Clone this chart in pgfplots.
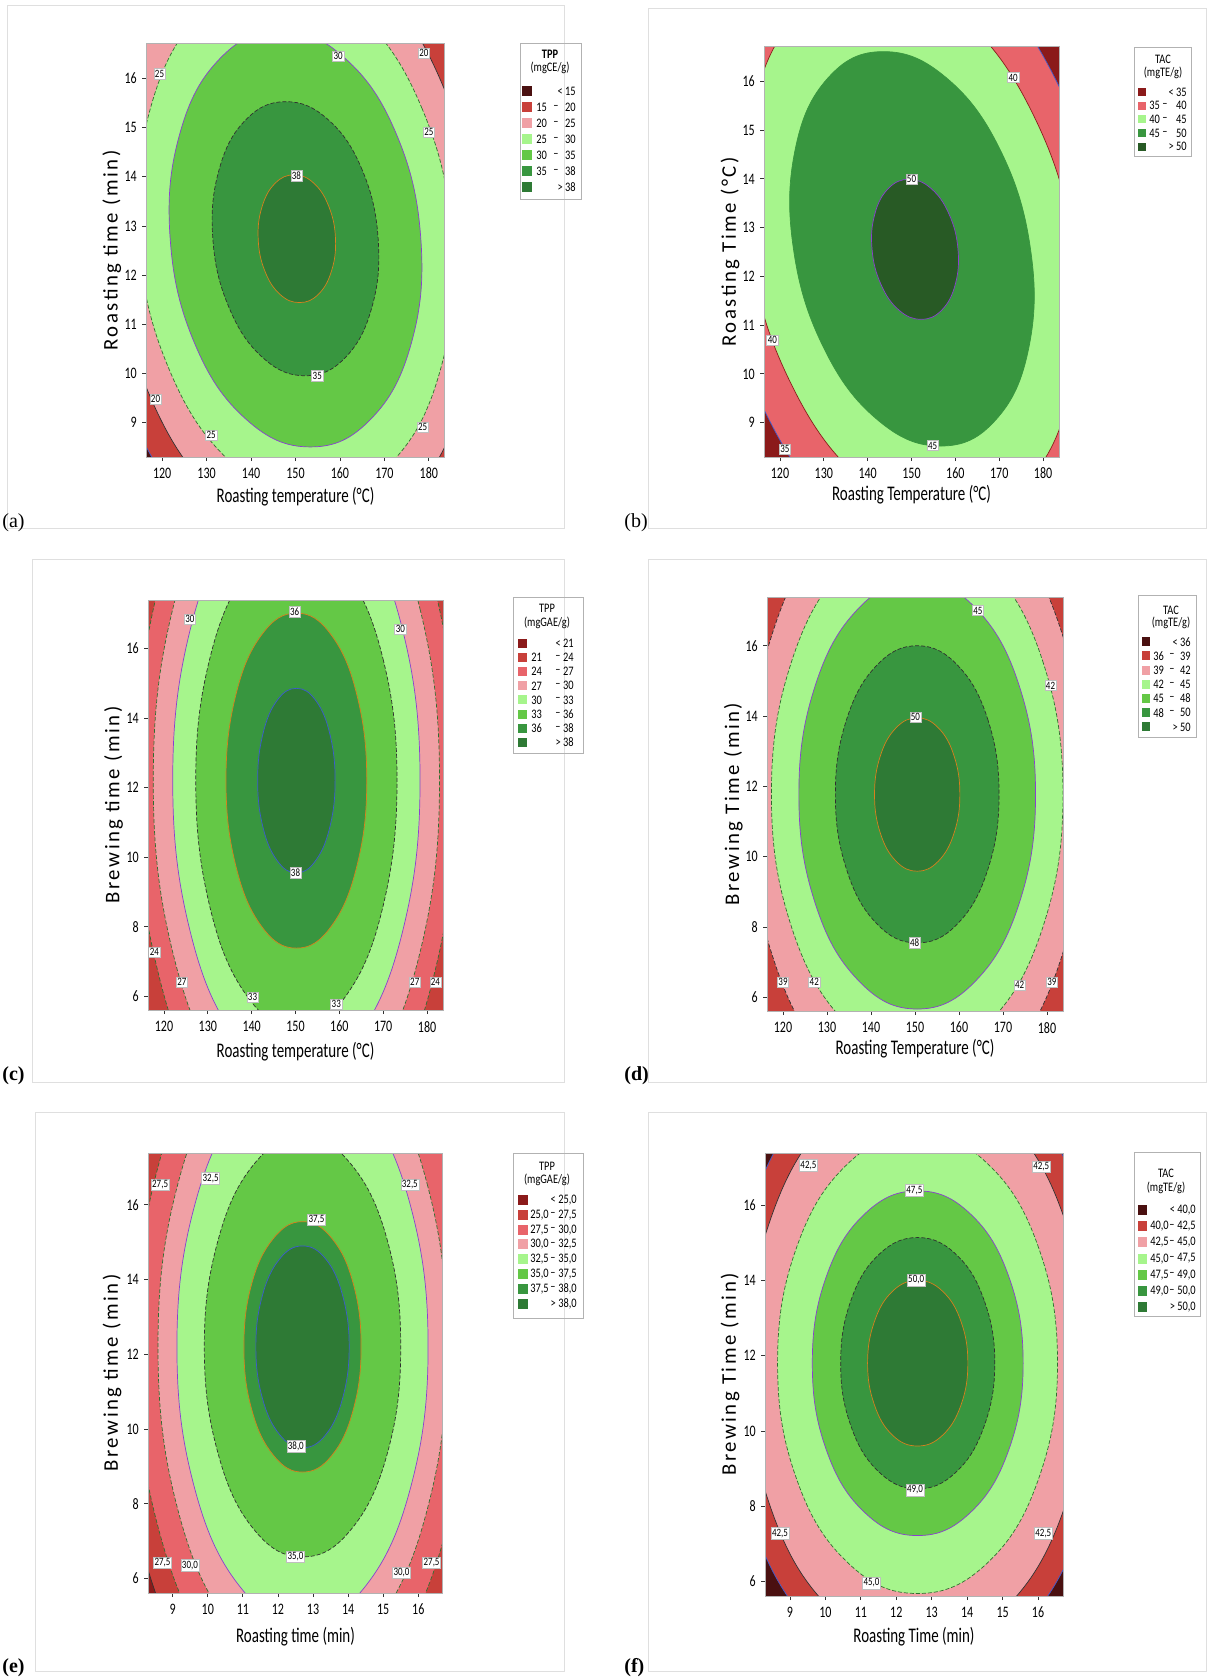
\documentclass[border=0pt]{standalone}
\usepackage{fontspec}
\setmainfont{Carlito}
\newfontfamily\serifp{Liberation Serif}
\usepackage{pgfplots}
\pgfplotsset{compat=1.18}

\definecolor{cDk}{HTML}{4A1010}
\definecolor{cBr}{HTML}{8B1A1A}
\definecolor{cRd}{HTML}{C8403A}
\definecolor{cSa}{HTML}{E8646A}
\definecolor{cPk}{HTML}{F0A0A5}
\definecolor{cLg}{HTML}{A6F58C}
\definecolor{cMg}{HTML}{64C846}
\definecolor{cGr}{HTML}{38963F}
\definecolor{cDg}{HTML}{2E7A35}
\definecolor{cXd}{HTML}{285A25}
\definecolor{lP}{HTML}{8A3FD0}
\definecolor{lO}{HTML}{D7801E}
\definecolor{lB}{HTML}{3D5BD0}
\definecolor{lD}{HTML}{303030}
\definecolor{lG}{HTML}{2F6F2F}

\pgfplotsset{
 cont/.style={scale only axis, anchor=south west, axis on top, enlargelimits=false,
  tick align=outside, major tick length=2pt, tick pos=left,
  axis line style={draw=gray!60, line width=0.5pt},
  tick style={draw=black!80, line width=0.4pt},
  /pgf/number format/assume math mode=true,
  ticklabel style={font=\fontsize{8}{9}\selectfont, xscale=0.75},
  xlabel style={font=\fontsize{10.4}{12}\selectfont, xscale=0.72, anchor=center},
  ylabel style={font=\fontsize{10.4}{12}\selectfont\addfontfeature{LetterSpace=12}, anchor=center},
 },
 ell/.style={smooth cycle, tension=0.7, line width=0.35pt},
 dsh/.style={dash pattern=on 2pt off 1pt},
}
\tikzset{
 cl/.style={fill=white, draw=gray!50, line width=0.2pt, inner sep=0.7pt, font=\fontsize{5.6}{6}\selectfont, xscale=0.8},
 lt/.style={font=\fontsize{6.5}{7}\selectfont, inner sep=0pt, xscale=0.8},
}

\def\Lsa{522}\def\Lsb{532}\def\Lh{5}\def\Lxl{536}\def\Lxd{556}\def\Lxr{576}
\newcommand{\lr}[5]{%
 \fill[#2] (\Lsa,#1-\Lh) rectangle (\Lsb,#1+\Lh);
 \node[lt,anchor=west] at (\Lxl,#1) {#3};
 \node[lt,anchor=center] at (\Lxd,#1) {#4};
 \node[lt,anchor=east] at (\Lxr,#1) {#5};
}

\begin{document}
\begin{tikzpicture}
\begin{scope}[x=0.5pt,y=-0.5pt]
\path[use as bounding box] (0,0) rectangle (1207,1680);
\draw[gray!25, line width=0.5pt] (7.5,5.4) rectangle (564,528);
\draw[gray!25, line width=0.5pt] (648,8.6) rectangle (1206,528);
\draw[gray!25, line width=0.5pt] (32,559) rectangle (564,1082);
\draw[gray!25, line width=0.5pt] (648,559) rectangle (1206,1082);
\draw[gray!25, line width=0.5pt] (35,1112) rectangle (564,1671);
\draw[gray!25, line width=0.5pt] (648,1112) rectangle (1206,1671);
\node[anchor=base west, inner sep=0pt, font=\serifp\fontsize{10}{12}\selectfont] at (2,527) {(a)};
\node[anchor=base west, inner sep=0pt, font=\serifp\fontsize{10}{12}\selectfont] at (624,527) {(b)};
\node[anchor=base west, inner sep=0pt, font=\serifp\bfseries\fontsize{10}{12}\selectfont] at (2,1080) {(c)};
\node[anchor=base west, inner sep=0pt, font=\serifp\bfseries\fontsize{10}{12}\selectfont] at (624,1080) {(d)};
\node[anchor=base west, inner sep=0pt, font=\serifp\bfseries\fontsize{10}{12}\selectfont] at (2,1672) {(e)};
\node[anchor=base west, inner sep=0pt, font=\serifp\bfseries\fontsize{10}{12}\selectfont] at (624,1672) {(f)};

% legend (a)
\draw[gray!60, line width=0.4pt] (520,43) rectangle (581,199);
\node[lt] at (550,54) {\bfseries TPP};
\node[lt] at (550,68) {(mgCE/g)};
\lr{91}{cDk}{}{}{< 15}
\lr{107}{cRd}{15}{–}{20}
\lr{123}{cPk}{20}{–}{25}
\lr{139}{cLg}{25}{–}{30}
\lr{155}{cMg}{30}{–}{35}
\lr{171}{cGr}{35}{–}{38}
\lr{187}{cDg}{}{}{> 38}

% legend (b)
\def\Lsa{1138}\def\Lsb{1146}\def\Lh{4}\def\Lxl{1149}\def\Lxd{1165}\def\Lxr{1187}
\draw[gray!60, line width=0.4pt] (1134,47) rectangle (1191,156);
\node[lt] at (1163,59) {TAC};
\node[lt] at (1163,73) {(mgTE/g)};
\lr{92}{cBr}{}{}{< 35}
\lr{105.7}{cSa}{35}{–}{40}
\lr{119.4}{cLg}{40}{–}{45}
\lr{133.1}{cGr}{45}{–}{50}
\lr{146.8}{cXd}{}{}{> 50}

% legend (c)
\def\Lsa{518}\def\Lsb{527}\def\Lh{4.5}\def\Lxl{531}\def\Lxd{558}\def\Lxr{574}
\draw[gray!60, line width=0.4pt] (513,597) rectangle (583,753);
\node[lt] at (547,608) {TPP};
\node[lt] at (547,623) {(mgGAE/g)};
\lr{643.5}{cBr}{}{}{< 21}
\lr{657.6}{cRd}{21}{–}{24}
\lr{671.7}{cSa}{24}{–}{27}
\lr{685.8}{cPk}{27}{–}{30}
\lr{699.9}{cLg}{30}{–}{33}
\lr{714}{cMg}{33}{–}{36}
\lr{728.1}{cGr}{36}{–}{38}
\lr{742.2}{cDg}{}{}{> 38}

% legend (d)
\def\Lsa{1142}\def\Lsb{1150}\def\Lh{4.5}\def\Lxl{1153}\def\Lxd{1172}\def\Lxr{1191}
\draw[gray!60, line width=0.4pt] (1138,595) rectangle (1196,737);
\node[lt] at (1171,610) {TAC};
\node[lt] at (1171,623) {(mgTE/g)};
\lr{641.7}{cDk}{}{}{< 36}
\lr{655.9}{cRd}{36}{–}{39}
\lr{670.1}{cPk}{39}{–}{42}
\lr{684.3}{cLg}{42}{–}{45}
\lr{698.5}{cMg}{45}{–}{48}
\lr{712.7}{cGr}{48}{–}{50}
\lr{726.9}{cDg}{}{}{> 50}

% legend (e)
\def\Lsa{518}\def\Lsb{528}\def\Lh{5}\def\Lxl{530}\def\Lxd{553}\def\Lxr{577}
\draw[gray!60, line width=0.4pt] (513,1153) rectangle (583,1318);
\node[lt] at (547,1166) {TPP};
\node[lt] at (547,1180) {(mgGAE/g)};
\lr{1200}{cBr}{}{}{< 25,0}
\lr{1214.8}{cRd}{25,0}{–}{27,5}
\lr{1229.6}{cSa}{27,5}{–}{30,0}
\lr{1244.4}{cPk}{30,0}{–}{32,5}
\lr{1259.2}{cLg}{32,5}{–}{35,0}
\lr{1274}{cMg}{35,0}{–}{37,5}
\lr{1288.8}{cGr}{37,5}{–}{38,0}
\lr{1303.6}{cDg}{}{}{> 38,0}

% legend (f)
\def\Lsa{1138}\def\Lsb{1147}\def\Lh{5}\def\Lxl{1150}\def\Lxd{1172}\def\Lxr{1196}
\draw[gray!60, line width=0.4pt] (1134,1152) rectangle (1200,1316);
\node[lt] at (1166,1173) {TAC};
\node[lt] at (1166,1188) {(mgTE/g)};
\lr{1210}{cDk}{}{}{< 40,0}
\lr{1226.2}{cRd}{40,0}{–}{42,5}
\lr{1242.4}{cPk}{42,5}{–}{45,0}
\lr{1258.6}{cLg}{45,0}{–}{47,5}
\lr{1274.8}{cMg}{47,5}{–}{49,0}
\lr{1291}{cGr}{49,0}{–}{50,0}
\lr{1307.2}{cDg}{}{}{> 50,0}
\end{scope}

% ---------------- (a)
\begin{axis}[cont, at={(73pt,-228.5pt)}, width=149.5pt, height=206.5pt,
 xmin=116.36, xmax=183.64, ymin=8.295, ymax=16.705,
 xtick={120,130,...,180}, ytick={9,...,16},
 axis background/.style={fill=cDk},
 xlabel={Roasting temperature (°C)}, ylabel={Roasting time (min)},
 xlabel style={at={(axis description cs:0.5,-0.097)}},
 ylabel style={at={(axis description cs:-0.114,0.5)}}]
\addplot[ell, fill=cRd, draw=lB] coordinates {(196.4,12.74) (187.44,16.22) (168.45,18.77) (144.51,19.70) (122.05,18.77) (107.08,16.22) (103.6,12.74) (112.57,9.26) (131.55,6.71) (155.49,5.78) (177.95,6.71) (192.93,9.26)};
\addplot[ell, fill=cPk, draw=lD] coordinates {(191.2,12.74) (183.24,15.84) (166.37,18.10) (145.12,18.93) (125.17,18.10) (111.88,15.84) (108.8,12.74) (116.76,9.64) (133.63,7.38) (154.88,6.55) (174.83,7.38) (188.12,9.64)};
\addplot[ell, fill=cLg, draw=lG, dsh] coordinates {(185.3,12.74) (178.48,15.39) (164.03,17.33) (145.82,18.04) (128.73,17.33) (117.34,15.39) (114.7,12.74) (121.52,10.09) (135.97,8.15) (154.18,7.44) (171.27,8.15) (182.66,10.09)};
\addplot[ell, fill=cMg, draw=lP] coordinates {(178.2,12.74) (172.75,14.86) (161.21,16.41) (146.66,16.98) (133.01,16.41) (123.91,14.86) (121.8,12.74) (127.25,10.62) (138.79,9.07) (153.34,8.50) (166.99,9.07) (176.09,10.62)};
\addplot[ell, fill=cGr, draw=lD, dsh] coordinates {(168.6,12.74) (165.01,14.14) (157.40,15.16) (147.80,15.53) (138.80,15.16) (132.79,14.14) (131.40,12.74) (134.99,11.35) (142.61,10.32) (152.20,9.95) (161.21,10.32) (167.21,11.35)};
\addplot[ell, fill=cDg, draw=lO] coordinates {(159.0,12.74) (157.53,13.39) (154.13,13.87) (149.7,14.04) (145.43,13.87) (142.47,13.39) (141.6,12.74) (143.07,12.09) (146.47,11.61) (150.9,11.44) (155.17,11.61) (158.13,12.09)};
\node[cl] at (159.6,16.46) {30};
\node[cl] at (178.9,16.52) {20};
\node[cl] at (119.4,16.1) {25};
\node[cl] at (180,14.91) {25};
\node[cl] at (150.2,14.02) {38};
\node[cl] at (154.9,9.95) {35};
\node[cl] at (118.5,9.47) {20};
\node[cl] at (131,8.74) {25};
\node[cl] at (178.6,8.9) {25};
\end{axis}

% ---------------- (b)
\begin{axis}[cont, at={(382pt,-228.5pt)}, width=147.5pt, height=205pt,
 xmin=116.36, xmax=183.64, ymin=8.295, ymax=16.705,
 xtick={120,130,...,180}, ytick={9,...,16},
 axis background/.style={fill=cBr},
 xlabel={Roasting Temperature (°C)}, ylabel={Roasting Time (°C)},
 xlabel style={at={(axis description cs:0.5,-0.093)}},
 ylabel style={at={(axis description cs:-0.115,0.5)}}]
\addplot[ell, fill=cSa, draw=lB] coordinates {(194.92,12.565) (183.52,15.92) (163.18,18.37) (139.32,19.27) (118.36,18.37) (105.9,15.92) (105.28,12.565) (116.68,9.21) (137.03,6.76) (160.88,5.86) (181.85,6.76) (194.3,9.21)};
\addplot[ell, fill=cLg, draw=cBr] coordinates {(187.1,12.565) (177.69,15.33) (160.89,17.36) (141.2,18.10) (123.89,17.36) (113.61,15.33) (113.1,12.565) (122.51,9.80) (139.31,7.77) (159.0,7.03) (176.31,7.77) (186.59,9.80)};
\addplot[ell, fill=cGr, draw=cGr] coordinates {(177.13,12.565) (170.26,14.59) (157.99,16.07) (143.6,16.61) (130.95,16.07) (123.44,14.59) (123.07,12.565) (129.94,10.54) (142.21,9.06) (156.6,8.52) (169.25,9.06) (176.76,10.54)};
\addplot[ell, fill=cXd, draw=lP] coordinates {(160.6,12.555) (158.59,13.27) (154.49,13.80) (149.4,13.99) (144.69,13.80) (141.61,13.27) (141.0,12.555) (143.01,11.84) (147.11,11.31) (152.2,11.12) (156.91,11.31) (159.99,11.84)};
\node[cl] at (173.2,16.08) {40};
\node[cl] at (150,13.99) {50};
\node[cl] at (118.25,10.69) {40};
\node[cl] at (154.8,8.53) {45};
\node[cl] at (121.1,8.46) {35};
\end{axis}

% ---------------- (c)
\begin{axis}[cont, at={(74pt,-505pt)}, width=147.5pt, height=205pt,
 xmin=116.36, xmax=183.64, ymin=5.613, ymax=17.387,
 xtick={120,130,...,180}, ytick={6,8,...,16},
 axis background/.style={fill=cRd},
 xlabel={Roasting temperature (°C)}, ylabel={Brewing time (min)},
 xlabel style={at={(axis description cs:0.5,-0.1015)}},
 ylabel style={at={(axis description cs:-0.117,0.5)}}]
\addplot[ell, fill=cSa, draw=lG, dsh] coordinates {(186.7,12.2) (181.81,17.68) (168.45,21.68) (150.2,23.15) (131.95,21.68) (118.59,17.68) (113.7,12.2) (118.59,6.73) (131.95,2.72) (150.2,1.25) (168.45,2.72) (181.81,6.73)};
\addplot[ell, fill=cPk, draw=lG, dsh] coordinates {(182.84,12.2) (178.47,17.09) (166.52,20.67) (150.2,21.98) (133.88,20.67) (121.93,17.09) (117.56,12.2) (121.93,7.31) (133.88,3.73) (150.2,2.42) (166.52,3.73) (178.47,7.31)};
\addplot[ell, fill=cLg, draw=lP] coordinates {(178.4,12.2) (174.62,16.43) (164.3,19.53) (150.2,20.66) (136.1,19.53) (125.78,16.43) (122.0,12.2) (125.78,7.97) (136.1,4.87) (150.2,3.74) (164.3,4.87) (174.62,7.97)};
\addplot[ell, fill=cMg, draw=lD, dsh] coordinates {(173.15,12.2) (170.07,15.64) (161.68,18.16) (150.2,19.08) (138.73,18.16) (130.33,15.64) (127.25,12.2) (130.33,8.65) (138.73,6.05) (150.2,5.10) (161.68,6.05) (170.07,8.65)};
\addplot[ell, fill=cGr, draw=lO] coordinates {(166.25,12.2) (164.1,14.61) (158.23,16.37) (150.2,17.01) (142.18,16.37) (136.3,14.61) (134.15,12.2) (136.3,9.80) (142.18,8.03) (150.2,7.39) (158.23,8.03) (164.1,9.80)};
\addplot[ell, fill=cDg, draw=lB] coordinates {(159.03,12.2) (157.85,13.53) (154.62,14.50) (150.2,14.85) (145.79,14.50) (142.55,13.53) (141.37,12.2) (142.55,10.88) (145.79,9.91) (150.2,9.55) (154.62,9.91) (157.85,10.88)};
\node[cl] at (149.8,17.05) {36};
\node[cl] at (125.9,16.84) {30};
\node[cl] at (173.9,16.55) {30};
\node[cl] at (150,9.55) {38};
\node[cl] at (117.8,7.27) {24};
\node[cl] at (124.1,6.42) {27};
\node[cl] at (140.2,5.99) {33};
\node[cl] at (159.3,5.78) {33};
\node[cl] at (177.2,6.42) {27};
\node[cl] at (181.9,6.42) {24};
\end{axis}

% ---------------- (d)
\begin{axis}[cont, at={(383.5pt,-505.5pt)}, width=148pt, height=207pt,
 xmin=116.36, xmax=183.64, ymin=5.613, ymax=17.387,
 xtick={120,130,...,180}, ytick={6,8,...,16},
 axis background/.style={fill=cRd},
 xlabel={Roasting Temperature (°C)}, ylabel={Brewing Time (min)},
 xlabel style={at={(axis description cs:0.5,-0.09)}},
 ylabel style={at={(axis description cs:-0.114,0.5)}}]
\addplot[ell, fill=cPk, draw=lD, dsh] coordinates {(188.9,11.77) (183.75,16.22) (169.7,19.48) (150.5,20.67) (131.3,19.48) (117.25,16.22) (112.1,11.77) (117.25,7.32) (131.3,4.06) (150.5,2.87) (169.7,4.06) (183.75,7.32)};
\addplot[ell, fill=cLg, draw=lG, dsh] coordinates {(183.63,11.77) (179.19,15.5) (167.07,18.22) (150.5,19.22) (133.94,18.22) (121.81,15.5) (117.37,11.77) (121.81,8.05) (133.94,5.32) (150.5,4.32) (167.07,5.32) (179.19,8.05)};
\addplot[ell, fill=cMg, draw=lP] coordinates {(177.4,11.77) (173.8,14.82) (163.95,17.05) (150.5,17.87) (137.05,17.05) (127.2,14.82) (123.6,11.77) (127.2,8.72) (137.05,6.49) (150.5,5.67) (163.95,6.49) (173.8,8.72)};
\addplot[ell, fill=cGr, draw=lD, dsh] coordinates {(169.1,11.77) (166.61,13.88) (159.8,15.43) (150.5,16.0) (141.2,15.43) (134.39,13.88) (131.9,11.77) (134.39,9.66) (141.2,8.11) (150.5,7.55) (159.8,8.11) (166.61,9.66)};
\addplot[ell, fill=cDg, draw=lO] coordinates {(160.2,11.77) (158.9,12.86) (155.35,13.66) (150.5,13.95) (145.65,13.66) (142.1,12.86) (140.8,11.77) (142.1,10.68) (145.65,9.88) (150.5,9.59) (155.35,9.88) (158.9,10.68)};
\node[cl] at (164.3,17.0) {45};
\node[cl] at (180.8,14.87) {42};
\node[cl] at (150.1,13.98) {50};
\node[cl] at (149.9,7.55) {48};
\node[cl] at (120,6.43) {39};
\node[cl] at (127.1,6.43) {42};
\node[cl] at (173.8,6.35) {42};
\node[cl] at (181.1,6.43) {39};
\end{axis}

% ---------------- (e)
\begin{axis}[cont, at={(74pt,-796.5pt)}, width=147.5pt, height=220pt,
 xmin=8.295, xmax=16.705, ymin=5.613, ymax=17.387,
 xtick={9,...,16}, ytick={6,8,...,16},
 axis background/.style={fill=cBr},
 xlabel={Roasting time (min)}, ylabel={Brewing time (min)},
 xlabel style={at={(axis description cs:0.5,-0.099)}},
 ylabel style={at={(axis description cs:-0.122,0.5)}}]
\addplot[ell, fill=cRd, draw=lD] coordinates {(18.0,12.2) (17.29,17.55) (15.35,21.47) (12.7,22.9) (10.05,21.47) (8.11,17.55) (7.4,12.2) (8.11,6.85) (10.05,2.93) (12.7,1.5) (15.35,2.93) (17.29,6.85)};
\addplot[ell, fill=cSa, draw=lG, dsh] coordinates {(17.45,12.2) (16.81,17.05) (15.08,20.6) (12.7,21.9) (10.33,20.6) (8.59,17.05) (7.95,12.2) (8.59,7.35) (10.33,3.8) (12.7,2.5) (15.08,3.8) (16.81,7.35)};
\addplot[ell, fill=cPk, draw=lG, dsh] coordinates {(16.82,12.2) (16.27,16.5) (14.76,19.65) (12.7,20.8) (10.64,19.65) (9.13,16.5) (8.58,12.2) (9.13,7.9) (10.64,4.75) (12.7,3.6) (14.76,4.75) (16.27,7.9)};
\addplot[ell, fill=cLg, draw=lP] coordinates {(16.28,12.2) (15.8,15.9) (14.49,18.61) (12.7,19.6) (10.91,18.61) (9.6,15.9) (9.12,12.2) (9.6,8.5) (10.91,5.79) (12.7,4.8) (14.49,5.79) (15.8,8.5)};
\addplot[ell, fill=cMg, draw=lD, dsh] coordinates {(15.5,12.2) (15.13,15.01) (14.1,17.07) (12.7,17.82) (11.3,17.07) (10.28,15.01) (9.9,12.2) (10.28,9.39) (11.3,7.33) (12.7,6.58) (14.1,7.33) (15.13,9.39)};
\addplot[ell, fill=cGr, draw=lO] coordinates {(14.37,12.2) (14.15,13.88) (13.54,15.10) (12.7,15.55) (11.87,15.10) (11.25,13.88) (11.03,12.2) (11.25,10.53) (11.87,9.30) (12.7,8.85) (13.54,9.30) (14.15,10.53)};
\addplot[ell, fill=cDg, draw=lB] coordinates {(14.03,12.2) (13.85,13.55) (13.37,14.54) (12.7,14.9) (12.04,14.54) (11.55,13.55) (11.37,12.2) (11.55,10.85) (12.04,9.86) (12.7,9.5) (13.37,9.86) (13.85,10.85)};
\node[cl] at (8.64,16.54) {27,5};
\node[cl] at (10.08,16.71) {32,5};
\node[cl] at (15.76,16.54) {32,5};
\node[cl] at (13.1,15.6) {37,5};
\node[cl] at (12.51,9.53) {38,0};
\node[cl] at (12.5,6.58) {35,0};
\node[cl] at (8.71,6.42) {27,5};
\node[cl] at (9.49,6.36) {30,0};
\node[cl] at (15.52,6.15) {30,0};
\node[cl] at (16.38,6.42) {27,5};
\end{axis}

% ---------------- (f)
\begin{axis}[cont, at={(382.5pt,-798pt)}, width=149pt, height=221.5pt,
 xmin=8.295, xmax=16.705, ymin=5.613, ymax=17.387,
 xtick={9,...,16}, ytick={6,8,...,16},
 axis background/.style={fill=cDk},
 xlabel={Roasting Time (min)}, ylabel={Brewing Time (min)},
 xlabel style={at={(axis description cs:0.5,-0.092)}},
 ylabel style={at={(axis description cs:-0.117,0.5)}}]
\addplot[ell, fill=cRd, draw=lB] coordinates {(18.02,11.8) (17.29,15.99) (15.31,19.05) (12.6,20.17) (9.89,19.05) (7.91,15.99) (7.18,11.8) (7.91,7.62) (9.89,4.55) (12.6,3.43) (15.31,4.55) (17.29,7.62)};
\addplot[ell, fill=cPk, draw=lD] coordinates {(17.4,11.8) (16.76,15.6) (15.0,18.38) (12.6,19.4) (10.2,18.38) (8.44,15.6) (7.8,11.8) (8.44,8.0) (10.2,5.22) (12.6,4.2) (15.0,5.22) (16.76,8.0)};
\addplot[ell, fill=cLg, draw=lG, dsh] coordinates {(16.55,11.8) (16.02,14.86) (14.58,17.1) (12.6,17.92) (10.63,17.1) (9.18,14.86) (8.65,11.8) (9.18,8.74) (10.63,6.5) (12.6,5.68) (14.58,6.5) (16.02,8.74)};
\addplot[ell, fill=cMg, draw=lP] coordinates {(15.58,11.8) (15.18,14.09) (14.09,15.77) (12.6,16.38) (11.11,15.77) (10.02,14.09) (9.63,11.8) (10.02,9.51) (11.11,7.83) (12.6,7.22) (14.09,7.83) (15.18,9.51)};
\addplot[ell, fill=cGr, draw=lD, dsh] coordinates {(14.78,11.8) (14.48,13.47) (13.69,14.69) (12.6,15.14) (11.51,14.69) (10.72,13.47) (10.43,11.8) (10.72,10.13) (11.51,8.91) (12.6,8.46) (13.69,8.91) (14.48,10.13)};
\addplot[ell, fill=cDg, draw=lO] coordinates {(14.02,11.8) (13.83,12.9) (13.31,13.71) (12.6,14.0) (11.89,13.71) (11.38,12.9) (11.19,11.8) (11.38,10.7) (11.89,9.89) (12.6,9.6) (13.31,9.89) (13.83,10.7)};
\node[cl] at (9.52,17.06) {42,5};
\node[cl] at (16.09,17.02) {42,5};
\node[cl] at (12.51,16.4) {47,5};
\node[cl] at (12.56,14.01) {50,0};
\node[cl] at (12.53,8.43) {49,0};
\node[cl] at (8.72,7.28) {42,5};
\node[cl] at (16.15,7.28) {42,5};
\node[cl] at (11.3,5.96) {45,0};
\end{axis}
\end{tikzpicture}
\end{document}
